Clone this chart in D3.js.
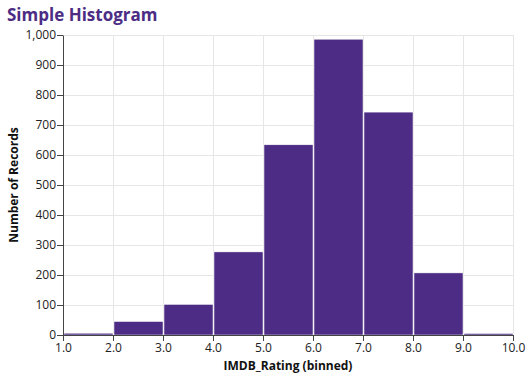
<!DOCTYPE html>
<html>
<head>
<meta charset="utf-8">
<script src="https://cdn.jsdelivr.net/npm/d3@7"></script>
<style>
  body { margin: 0; background: #fff; }
  svg text { font-family: "Open Sans", sans-serif; }
</style>
</head>
<body>
<svg id="chart" width="531" height="377"></svg>
<script>
// bins of IMDB_Rating and counts
const binStarts = [1, 2, 3, 4, 5, 6, 7, 8, 9];
const binEnds = [2, 3, 4, 5, 6, 7, 8, 9, 10];
const counts = [6, 45, 102, 277, 634, 986, 743, 207, 5];
const xTicks = [1, 2, 3, 4, 5, 6, 7, 8, 9, 10];
const yTicks = [0, 100, 200, 300, 400, 500, 600, 700, 800, 900, 1000];

const margin = {top: 35, right: 18, bottom: 42, left: 63};
const width = 450, height = 300;
const purple = "#4c2c84";

const svg = d3.select("#chart");

svg.append("text")
  .attr("x", 7).attr("y", 21)
  .attr("fill", purple)
  .style("font-size", "17px")
  .style("font-weight", "bold")
  .text("Simple Histogram");

const g = svg.append("g")
  .attr("transform", "translate(" + margin.left + "," + margin.top + ")");

const x = d3.scaleLinear().domain([1, 10]).range([0, width]);
const y = d3.scaleLinear().domain([0, 1000]).range([height, 0]);

// grid
g.append("g").selectAll("line").data(yTicks).enter().append("line")
  .attr("x1", 0).attr("x2", width)
  .attr("y1", d => y(d) + 0.5).attr("y2", d => y(d) + 0.5)
  .attr("stroke", "#e6e6e6");
g.append("g").selectAll("line").data(xTicks).enter().append("line")
  .attr("y1", 0).attr("y2", height)
  .attr("x1", d => x(d) + 0.5).attr("x2", d => x(d) + 0.5)
  .attr("stroke", "#e6e6e6");

// bars
const bins = binStarts.map((s, i) => ({x0: s, x1: binEnds[i], n: counts[i]}));
g.append("g").selectAll("rect").data(bins).enter().append("rect")
  .attr("x", d => x(d.x0) + 1)
  .attr("width", d => x(d.x1) - x(d.x0) - 1)
  .attr("y", d => y(d.n))
  .attr("height", d => y(0) - y(d.n))
  .attr("fill", purple)
  .attr("stroke", "#fff")
  .attr("stroke-width", 0.5);

// axes
const xAxis = g.append("g")
  .attr("transform", "translate(0," + height + ")")
  .call(d3.axisBottom(x).tickValues(xTicks).tickFormat(d3.format(".1f")).tickSizeOuter(0).tickPadding(2));
const yAxis = g.append("g")
  .call(d3.axisLeft(y).tickValues(yTicks).tickFormat(d3.format(",")).tickSizeOuter(0));

[xAxis, yAxis].forEach(a => {
  a.select(".domain").attr("stroke", "#444");
  a.selectAll(".tick line").attr("stroke", "#444");
  a.selectAll(".tick text").attr("fill", "#222").style("font-size", "12px")
    .style("font-family", "'Open Sans', sans-serif");
});
xAxis.selectAll(".tick text").attr("dy", "0.75em");
yAxis.selectAll(".tick text").attr("x", -7);

svg.append("text")
  .attr("x", margin.left + width / 2).attr("y", 370)
  .attr("text-anchor", "middle")
  .style("font-size", "12px").style("font-weight", "bold")
  .attr("fill", "#111")
  .text("IMDB_Rating (binned)");

svg.append("text")
  .attr("transform", "translate(18," + (margin.top + height / 2) + ") rotate(-90)")
  .attr("text-anchor", "middle")
  .style("font-size", "12px").style("font-weight", "bold")
  .attr("fill", "#111")
  .text("Number of Records");
</script>
</body>
</html>
